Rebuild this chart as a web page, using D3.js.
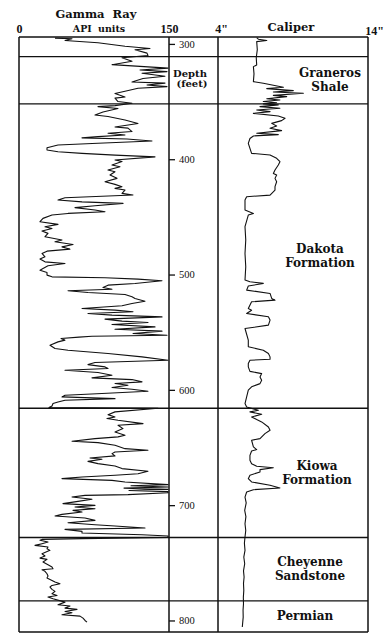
<!DOCTYPE html>
<html>
<head>
<meta charset="utf-8">
<script src="https://cdn.jsdelivr.net/npm/d3@7/dist/d3.min.js"></script>
<style>
  html, body { margin: 0; padding: 0; background: #fff; }
  svg { display: block; }
  .word { font-family: "DejaVu Serif", serif; font-weight: bold; fill: #111; }
  .num { font-family: "Liberation Serif", serif; font-weight: bold; fill: #111; }
</style>
</head>
<body>
<div id="chart"></div>
<script>
// gamma ray log: [depth (ft), API units]
const gammaLog = [
  [295, 36], [295.5, 53], [297, 46], [299, 79], [302, 106], [304, 131], [305, 116], [308, 128],
  [310, 129], [312, 103], [315, 113], [318, 93], [319, 113], [321, 149], [322.6, 121], [324, 148],
  [325.5, 123], [328, 146], [330, 124], [333, 113], [334, 146], [335.6, 128], [337, 148], [338.5, 119],
  [341, 106], [343, 96], [346, 106], [347, 96], [350, 99], [351.5, 113], [353.5, 96], [354.4, 79],
  [356, 99], [359, 84], [361.6, 76], [363, 89], [366, 106], [369, 119], [372, 96], [373, 109],
  [376, 113], [377.5, 89], [379, 106], [380.4, 79], [381.5, 63], [382.5, 108], [384.2, 133],
  [386.2, 79], [387.7, 39], [390, 28], [392, 28], [393.5, 39], [394.9, 63], [396.4, 96], [398, 136],
  [400.7, 96], [402, 103], [405, 93], [406.5, 101], [409.4, 89], [410.8, 96], [413.7, 91], [416.6, 98],
  [419.5, 86], [421.8, 96], [423.8, 103], [425.3, 96], [426.7, 106], [429.6, 103], [431, 114],
  [433.4, 46], [435.4, 39], [437, 63], [438.3, 104], [440.3, 76], [442, 56], [444, 76], [445.5, 86],
  [447, 49], [448.4, 33], [451.3, 24], [454.2, 21], [456.5, 39], [458.6, 26], [460, 33], [462.3, 23],
  [464.3, 29], [467.2, 26], [470, 43], [471.6, 36], [474, 54], [476, 43], [478, 51], [479.7, 28],
  [481.7, 23], [484.6, 26], [486.6, 21], [489, 26], [490.4, 46], [492.4, 29], [494.7, 24], [496.2, 21],
  [498.2, 28], [500.5, 28], [502, 33], [502.8, 86], [504, 119], [505.4, 143], [507.8, 116], [509.2, 89],
  [511.2, 84], [512.7, 93], [514.1, 49], [515.6, 69], [517.3, 106], [519.3, 113], [520.8, 116],
  [523.1, 126], [525.1, 113], [527.1, 103], [529.4, 63], [530.9, 96], [532.3, 114], [533.8, 69],
  [535.2, 93], [536.7, 143], [538.7, 86], [540.4, 103], [541.6, 129], [543.3, 93], [545.4, 136],
  [547.4, 96], [549.1, 143], [551.1, 114], [552.6, 148], [553.5, 73], [554.3, 60], [555.5, 42],
  [556.9, 46], [558.4, 39], [561.3, 31], [564.2, 36], [565.6, 49], [568.5, 89], [571.4, 123],
  [574.3, 149], [576.3, 76], [578.1, 69], [580.1, 86], [581.5, 89], [583, 46], [585, 79], [587.3, 93],
  [589.6, 73], [591.1, 113], [593.1, 123], [594.5, 96], [596, 109], [598, 93], [599.5, 113],
  [601.2, 129], [603.2, 83], [604.7, 46], [606.1, 43], [607.6, 96], [609, 46], [610.5, 39],
  [611.9, 34], [614, 33], [615.4, 30], [615.9, 139], [619.1, 96], [621.5, 89], [623.5, 96],
  [624.9, 88], [626.4, 99], [629.3, 124], [630.7, 99], [633.6, 104], [636.5, 96], [639.4, 106],
  [640.8, 99], [642.3, 76], [644.6, 53], [645.8, 79], [648.1, 96], [651, 106], [652.4, 129],
  [653.9, 96], [655.3, 93], [657.3, 96], [659.1, 71], [660.2, 83], [662, 69], [664, 79], [666, 96],
  [668.3, 103], [670.6, 129], [672.7, 119], [674.1, 96], [675.6, 63], [677, 43], [678.5, 93],
  [679.9, 106], [682.2, 149], [683.2, 112], [684.2, 149], [685.2, 105], [686.3, 149], [687.3, 110],
  [688.3, 149], [689.2, 149], [690.9, 109], [691.5, 66], [692.9, 53], [694.9, 73], [696.7, 59],
  [698.7, 44], [700.2, 76], [701.6, 56], [703.1, 76], [704.5, 54], [706, 63], [708, 43], [709.4, 36],
  [711.2, 66], [713.2, 76], [715.2, 49], [717, 76], [718.1, 96], [719.8, 126], [721, 46], [722.7, 63],
  [724.2, 63], [725.6, 123], [726.8, 149], [728, 149], [729, 63], [729.7, 23], [730.5, 21], [732, 29],
  [733.4, 23], [734.9, 16], [736.3, 29], [737.8, 28], [739.2, 31], [742.1, 23], [744.1, 26],
  [745.9, 21], [747, 28], [749.3, 24], [751.7, 29], [753.7, 33], [755.1, 34], [756, 23], [757.4, 26],
  [759.5, 28], [761.5, 29], [763.2, 28], [765.3, 33], [766.7, 36], [768.1, 41], [769.6, 33], [771, 31],
  [773, 33], [774.8, 36], [776.8, 33], [778.3, 38], [779.7, 29], [781.2, 34], [784.1, 46], [786.4, 39],
  [787.5, 51], [789.3, 46], [790.4, 58], [792.2, 46], [793.3, 53], [795.1, 43], [796.2, 61], [798, 64],
  [800, 66], [801.4, 68]
];

// caliper log: [depth (ft), hole diameter (inches)]
const caliperLog = [
  [294.5, 6.58], [295.9, 6.69], [297.1, 7.25], [298, 6.58], [305, 6.62], [312, 6.55], [318.2, 6.58],
  [319.7, 6.36], [326, 6.4], [332.7, 6.36], [334.1, 7.02], [337.6, 8.36], [338.8, 7.25], [340.5, 9.02],
  [341.7, 7.69], [342.8, 9.69], [344.6, 7.69], [345.7, 8.58], [347.5, 7.25], [348.6, 8.13], [350, 7.02],
  [351, 7.91], [352, 7.02], [352.9, 8.02], [354.4, 6.8], [355.8, 8.13], [357.3, 6.58], [358.7, 7.47],
  [360.2, 6.36], [362.5, 8.02], [364.5, 8.47], [366.5, 8.24], [368.9, 7.58], [371.2, 7.91],
  [373.2, 7.47], [375.2, 8.24], [377.5, 6.58], [378.7, 8.02], [379.8, 6.36], [382, 6.13], [386.2, 6.02],
  [394.9, 6.24], [396.3, 7.47], [399.2, 7.91], [402.1, 8.13], [405, 8.02], [409.4, 7.8], [412.3, 7.69],
  [413.7, 7.91], [416.6, 7.8], [419.5, 7.91], [423.8, 7.8], [426.7, 7.8], [431.1, 7.47], [432.5, 5.91],
  [435.4, 5.8], [444.1, 5.8], [447, 6.36], [448.4, 6.02], [458.5, 5.8], [470.1, 5.85], [481.7, 5.8],
  [493.3, 5.85], [504.8, 5.8], [506.3, 6.13], [507.7, 7.02], [510, 6.02], [513.5, 5.91], [516.4, 7.47],
  [520.7, 7.58], [522.2, 7.8], [523.6, 6.24], [529.4, 6.02], [530.9, 6.24], [533.8, 5.91],
  [536.6, 7.36], [539.5, 7.47], [543.9, 7.36], [546.8, 5.8], [556.9, 6.02], [562.7, 6.02],
  [565.6, 7.02], [568.5, 7.36], [571.4, 7.47], [573.5, 7.47], [574.3, 6.13], [577.2, 6.02],
  [580.1, 6.02], [584, 6.13], [585.9, 6.91], [588.8, 6.8], [591.7, 6.91], [594.6, 6.8], [597.4, 6.24],
  [600.3, 6.02], [606.1, 5.91], [611.9, 5.8], [614.8, 5.91], [617.7, 6.69], [619.1, 6.13],
  [621.2, 6.91], [623.5, 6.24], [625.8, 6.58], [627.8, 6.91], [632.2, 7.36], [635, 7.47], [638, 7.13],
  [642.3, 6.8], [643.7, 6.24], [649.5, 6.36], [651.8, 6.58], [653, 6.24], [656.8, 6.13], [661.1, 6.13],
  [664, 6.24], [666.3, 6.58], [667.5, 7.69], [669.2, 6.8], [671.2, 6.8], [674.1, 6.13], [677, 6.02],
  [679.9, 6.24], [682.8, 7.47], [685.1, 8.13], [686.6, 6.36], [688.6, 5.91], [693, 5.8], [698, 5.88],
  [704.5, 5.78], [710, 5.86], [716.1, 5.8], [722, 5.85], [727.6, 5.8], [733, 5.76], [739.2, 5.8],
  [745, 5.72], [750.8, 5.78], [757, 5.7], [762.3, 5.74], [768, 5.7], [773.9, 5.72], [780, 5.69],
  [785.5, 5.7], [791, 5.67], [797.1, 5.68], [805.7, 5.62]
];

const formationNames = ["", "Graneros|Shale", "Dakota|Formation", "Kiowa|Formation", "Cheyenne|Sandstone", "Permian"];
const formationTops = [294, 311, 352, 616, 728, 783];
const logBottom = 810;
const depthTicks = [300, 400, 500, 600, 700, 800];
const gammaTicks = [0, 150];
const caliperTicks = [4, 14];

const width = 389, height = 643;
const svg = d3.select("#chart").append("svg")
    .attr("width", width)
    .attr("height", height);

const y = d3.scaleLinear().domain([294, logBottom]).range([37, 632]);
const xGamma = d3.scaleLinear().domain([0, 150]).range([19, 169]);
const xCal = d3.scaleLinear().domain([4, 14]).range([218, 368]);
const left = xGamma.range()[0], right = xCal.range()[1];

// frame and formation boundaries
const frame = svg.append("g").attr("stroke", "#111").attr("fill", "none");
frame.selectAll("line.h")
    .data(formationTops.concat([logBottom]))
    .join("line")
    .attr("class", "h")
    .attr("x1", left).attr("x2", right)
    .attr("y1", d => y(d)).attr("y2", d => y(d))
    .attr("stroke-width", 1.4);
frame.selectAll("line.v")
    .data([xGamma(0), xGamma(150), xCal(4), xCal(14)])
    .join("line")
    .attr("class", "v")
    .attr("x1", d => d).attr("x2", d => d)
    .attr("y1", y(294)).attr("y2", y(logBottom))
    .attr("stroke-width", 1.5);

// curves
svg.append("path")
    .datum(gammaLog)
    .attr("fill", "none").attr("stroke", "#111").attr("stroke-width", 1.1)
    .attr("stroke-linejoin", "round")
    .attr("d", d3.line().x(d => xGamma(d[1])).y(d => y(d[0])));

svg.append("path")
    .datum(caliperLog)
    .attr("fill", "none").attr("stroke", "#111").attr("stroke-width", 1.1)
    .attr("stroke-linejoin", "round")
    .attr("d", d3.line().x(d => xCal(d[1])).y(d => y(d[0])));

// depth axis
const depthAxis = svg.append("g")
    .attr("transform", `translate(${xGamma(150)},0)`)
    .call(d3.axisRight(y).tickValues(depthTicks).tickSize(6).tickPadding(4));
depthAxis.select(".domain").remove();
depthAxis.selectAll("line").attr("stroke", "#111").attr("stroke-width", 1.3);
depthAxis.selectAll("text")
    .attr("font-family", "'Liberation Serif', serif")
    .attr("font-size", 10.5)
    .attr("fill", "#111");

// header scale labels
const gAxis = svg.append("g")
    .attr("transform", "translate(0,33)")
    .call(d3.axisTop(xGamma).tickValues(gammaTicks).tickSize(0).tickPadding(0));
gAxis.select(".domain").remove();
gAxis.selectAll("text").attr("class", "num").attr("font-size", 12);

const cAxis = svg.append("g")
    .attr("transform", "translate(0,33)")
    .call(d3.axisTop(xCal).tickValues(caliperTicks).tickSize(0).tickPadding(0)
        .tickFormat(d => d + "\""));
cAxis.select(".domain").remove();
cAxis.selectAll("text").attr("class", "num").attr("font-size", 12)
    .attr("dx", d => d === 14 ? 6 : 3)
    .attr("dy", d => d === 14 ? 2 : 0);

svg.append("text").attr("class", "word")
    .attr("x", 96).attr("y", 18).attr("text-anchor", "middle")
    .attr("font-size", 11.5).attr("word-spacing", 4)
    .text("Gamma Ray");
svg.append("text").attr("class", "word")
    .attr("x", 99).attr("y", 32).attr("text-anchor", "middle")
    .attr("font-size", 9.5).attr("word-spacing", 3)
    .text("API units");
svg.append("text").attr("class", "word")
    .attr("x", 291).attr("y", 31).attr("text-anchor", "middle")
    .attr("font-size", 11.5)
    .text("Caliper");

const depthTitle = svg.append("text").attr("class", "word")
    .attr("text-anchor", "middle").attr("font-size", 10);
depthTitle.append("tspan").attr("x", 190).attr("y", 77).text("Depth");
depthTitle.append("tspan").attr("x", 192).attr("y", 87).text("(feet)");

// formation labels, centred in each interval
const labelX = [0, 330, 320, 317, 310, 305];
const bottoms = formationTops.slice(1).concat([logBottom]);
formationNames.forEach((name, i) => {
  if (!name) return;
  const lines = name.split("|");
  const mid = (y(formationTops[i]) + y(bottoms[i])) / 2;
  const t = svg.append("text").attr("class", "word")
      .attr("text-anchor", "middle").attr("font-size", 12);
  lines.forEach((ln, j) => {
    t.append("tspan")
        .attr("x", labelX[i])
        .attr("y", mid + 4 + (j - (lines.length - 1) / 2) * 13.5)
        .text(ln);
  });
});
</script>
</body>
</html>
